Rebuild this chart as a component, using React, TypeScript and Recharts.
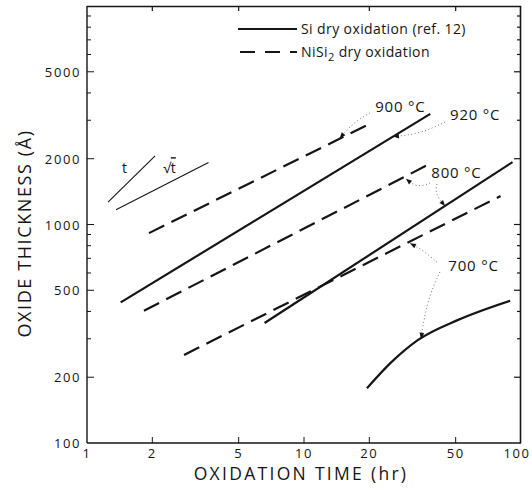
import { Legend, Line, LineChart, XAxis, YAxis } from 'recharts'

const FONT = "'Open Sans', 'DejaVu Sans', sans-serif"
const INK = '#151515'

// axis ticks
const xTicks = [1, 2, 5, 10, 20, 50, 100]
const xTopTicks = [2, 5, 20, 50]
const yLabelTicks = [100, 200, 500, 1000, 2000, 5000]
const yLeftTicks = [100, 200, 300, 400, 500, 600, 700, 800, 900, 1000, 2000, 3000, 4000, 5000, 6000, 7000, 8000, 9000]
const yRightTicks = [200, 300, 400, 500, 600, 700, 800, 900, 1000, 2000, 3000, 4000, 5000, 6000, 7000, 8000, 9000]

// Si dry oxidation (ref. 12), t in hr, d in Å
const si900 = [{ t: 1.43, d: 440 }, { t: 38.2, d: 3210 }]
const si800 = [{ t: 6.58, d: 354 }, { t: 91.4, d: 1930 }]
const si700 = [
  { t: 19.5, d: 178 },
  { t: 25, d: 232 },
  { t: 33.3, d: 295 },
  { t: 51.3, d: 366 },
  { t: 89.1, d: 448 },
]

// NiSi2 dry oxidation
const ni900 = [{ t: 1.93, d: 913 }, { t: 20.1, d: 2890 }]
const ni800 = [{ t: 1.83, d: 403 }, { t: 37.8, d: 1890 }]
const ni700 = [{ t: 2.8, d: 253 }, { t: 80.5, d: 1350 }]

// slope guides
const slopeT = [{ t: 1.25, d: 1265 }, { t: 2.06, d: 2060 }]
const slopeSqrtT = [{ t: 1.36, d: 1167 }, { t: 3.63, d: 1921 }]
const slopeLabels = [
  { t: 1.49, d: 1810, text: 't' },
  { t: 2.4, d: 1810, text: '√t' },
]

// temperature labels and their dotted leaders (last point = arrow tip)
const tempLabels = [
  { t: 27.8, d: 3441, text: '900 °C' },
  { t: 61.5, d: 3173, text: '920 °C' },
  { t: 50.4, d: 1729, text: '800 °C' },
  { t: 60.4, d: 643, text: '700 °C' },
]
const leader900 = [{ t: 20.1, d: 3240 }, { t: 16.8, d: 2914 }, { t: 14.6, d: 2480 }]
const leader920 = [{ t: 44.7, d: 2944 }, { t: 34.2, d: 2596 }, { t: 25.7, d: 2525 }]
const leader800a = [{ t: 38.1, d: 1549 }, { t: 33.2, d: 1469 }, { t: 29.5, d: 1620 }]
const leader800b = [{ t: 41, d: 1532 }, { t: 40.1, d: 1379 }, { t: 44.7, d: 1215 }]
const leader700a = [{ t: 41, d: 673 }, { t: 35.3, d: 764 }, { t: 30.8, d: 820 }]
const leader700b = [{ t: 42.3, d: 606 }, { t: 36.9, d: 451 }, { t: 34.6, d: 300 }]

const leaders = [leader900, leader920, leader800a, leader800b, leader700a, leader700b]

// plot box used by the frame overlay (same as the chart margins below)
const W = 532
const H = 494
const M = { top: 6, right: 11, bottom: 0, left: 0 }
const Y_AXIS_W = 87
const X_AXIS_H = 51
const box = { l: M.left + Y_AXIS_W, r: W - M.right, t: M.top, b: H - M.bottom - X_AXIS_H }
const logX = (v: number) => box.l + (Math.log10(v) / 2) * (box.r - box.l)
const logY = (v: number) => box.b - ((Math.log10(v) - 2) / 2) * (box.b - box.t)

const tickText = { fontFamily: FONT, fontSize: 13, letterSpacing: 1.6, fill: INK }

function BottomTick({ x, y, payload }: any) {
  const v = payload.value
  const inner = v !== 1 && v !== 100
  return (
    <g>
      {inner && <line x1={x} x2={x} y1={y - 4} y2={y - 10} stroke={INK} />}
      <text x={v === 100 ? x - 4 : x} y={y + 11} textAnchor="middle" {...tickText}>
        {v}
      </text>
    </g>
  )
}

function LeftTick({ x, y, payload }: any) {
  const v = payload.value
  const major = yLabelTicks.includes(v)
  return (
    <g>
      {v !== 100 && (
        <line x1={x + 6} x2={x + 6 + (major ? 7 : 4)} y1={y} y2={y} stroke={INK} />
      )}
      {major && (
        <text x={x} y={y + 5} textAnchor="end" {...tickText}>
          {v}
        </text>
      )}
    </g>
  )
}

function ArrowDot(props: any) {
  const { cx, cy, index, points } = props
  if (!points || index !== points.length - 1) return <g key={index} />
  const p = points[index - 1]
  const a = Math.atan2(cy - p.y, cx - p.x)
  const L = 6
  const hw = 2.4
  const bx = cx - L * Math.cos(a)
  const by = cy - L * Math.sin(a)
  const nx = -Math.sin(a) * hw
  const ny = Math.cos(a) * hw
  return (
    <path
      key={index}
      d={`M${cx},${cy}L${bx + nx},${by + ny}L${bx - nx},${by - ny}Z`}
      fill={INK}
      stroke="none"
    />
  )
}

function tempLabel(props: any) {
  const { x, y, index } = props
  return (
    <text
      key={index}
      x={x}
      y={y + 5}
      textAnchor="middle"
      fontFamily={FONT}
      fontSize={15}
      letterSpacing={0.8}
      fill={INK}
    >
      {tempLabels[index].text}
    </text>
  )
}

function slopeLabel(props: any) {
  const { x, y, index } = props
  const text = slopeLabels[index].text
  const root = text.startsWith('√')
  return (
    <text key={index} x={x} y={y + 5} textAnchor="middle" fontFamily={FONT} fontSize={14} fill={INK}>
      {root ? (
        <>
          √<tspan textDecoration="overline">{text.slice(1)}</tspan>
        </>
      ) : (
        text
      )}
    </text>
  )
}

function YTitle({ viewBox }: any) {
  const cx = viewBox.x + 31
  const cy = viewBox.y + viewBox.height / 2 + 9
  return (
    <text
      x={cx}
      y={cy}
      transform={`rotate(-90 ${cx} ${cy})`}
      textAnchor="middle"
      fontFamily={FONT}
      fontSize={18}
      letterSpacing={1.6}
      fill={INK}
    >
      OXIDE THICKNESS (Å)
    </text>
  )
}

function XTitle({ viewBox }: any) {
  return (
    <text
      x={viewBox.x + viewBox.width / 2 - 3}
      y={viewBox.y + 37}
      textAnchor="middle"
      fontFamily={FONT}
      fontSize={17.5}
      letterSpacing={2.3}
      fill={INK}
    >
      OXIDATION TIME (hr)
    </text>
  )
}

function LegendBox() {
  const txt = { fontFamily: FONT, fontSize: 14, letterSpacing: 0.4, fill: INK }
  return (
    <svg width={270} height={50} style={{ display: 'block' }}>
      <line x1={2} x2={61} y1={12} y2={12} stroke={INK} strokeWidth={2.2} />
      <text x={65} y={17} {...txt}>
        Si dry oxidation (ref. 12)
      </text>
      <line x1={2} x2={61} y1={35} y2={35} stroke={INK} strokeWidth={2.2} strokeDasharray="15 10" strokeDashoffset={-2} />
      <text x={65} y={40} {...txt}>
        NiSi
        <tspan dy={4} fontSize={11}>
          2
        </tspan>
        <tspan dy={-4}> dry oxidation</tspan>
      </text>
    </svg>
  )
}

// top and right edges of the frame with their inward ticks
function FrameOverlay() {
  return (
    <svg
      width={W}
      height={H}
      style={{ position: 'absolute', left: 0, top: 0, pointerEvents: 'none', zIndex: 5 }}
    >
      <path
        d={`M${box.l},${box.t + 0.5}H${box.r - 0.5}V${box.b}`}
        fill="none"
        stroke={INK}
        strokeWidth={1.6}
      />
      {xTopTicks.map((v) => (
        <line key={v} x1={logX(v)} x2={logX(v)} y1={box.t} y2={box.t + 5} stroke={INK} strokeWidth={1.2} />
      ))}
      {yRightTicks.map((v) => (
        <line
          key={v}
          x1={box.r}
          x2={box.r - (yLabelTicks.includes(v) ? 7 : 4)}
          y1={logY(v)}
          y2={logY(v)}
          stroke={INK}
          strokeWidth={1.2}
        />
      ))}
    </svg>
  )
}

const axisIds = { xAxisId: 'b', yAxisId: 'l' }

export default function App() {
  const solid = { ...axisIds, dataKey: 'd', stroke: INK, strokeWidth: 2.2, dot: false, isAnimationActive: false, legendType: 'none' as const }
  const dashed = { ...solid, strokeDasharray: '17 8' }
  return (
    <div style={{ position: 'absolute', left: 0, top: 0, width: W, height: H, background: '#fff' }}>
      <LineChart width={W} height={H} margin={M}>
        <XAxis
          xAxisId="b"
          type="number"
          dataKey="t"
          scale="log"
          domain={[1, 100]}
          ticks={xTicks}
          interval={0}
          height={X_AXIS_H}
          tickSize={0}
          tickMargin={4}
          tick={<BottomTick />}
          stroke={INK}
          axisLine={{ stroke: INK, strokeWidth: 1.4 }}
          label={<XTitle />}
        />
        <YAxis
          yAxisId="l"
          type="number"
          scale="log"
          domain={[100, 10000]}
          ticks={yLeftTicks}
          interval={0}
          width={Y_AXIS_W}
          tickSize={0}
          tickMargin={6}
          tick={<LeftTick />}
          stroke={INK}
          axisLine={{ stroke: INK, strokeWidth: 1.4 }}
          label={<YTitle />}
        />
        <Legend
          content={<LegendBox />}
          layout="horizontal"
          verticalAlign="middle"
          wrapperStyle={{ position: 'absolute', left: 236, top: 17, width: 270, height: 50 }}
        />

        <Line {...solid} data={si900} />
        <Line {...solid} data={si800} />
        <Line {...solid} data={si700} type="monotone" />
        <Line {...dashed} data={ni900} />
        <Line {...dashed} data={ni800} />
        <Line {...dashed} data={ni700} />

        <Line {...solid} data={slopeT} strokeWidth={1.1} />
        <Line {...solid} data={slopeSqrtT} strokeWidth={1.1} />
        <Line {...solid} data={slopeLabels} stroke="none" label={slopeLabel} />

        {leaders.map((pts, i) => (
          <Line
            key={i}
            {...solid}
            data={pts}
            type="basis"
            stroke="#666"
            strokeWidth={0.9}
            strokeDasharray="1 2.5"
            dot={<ArrowDot />}
          />
        ))}
        <Line {...solid} data={tempLabels} stroke="none" label={tempLabel} />
      </LineChart>
      <FrameOverlay />
    </div>
  )
}
